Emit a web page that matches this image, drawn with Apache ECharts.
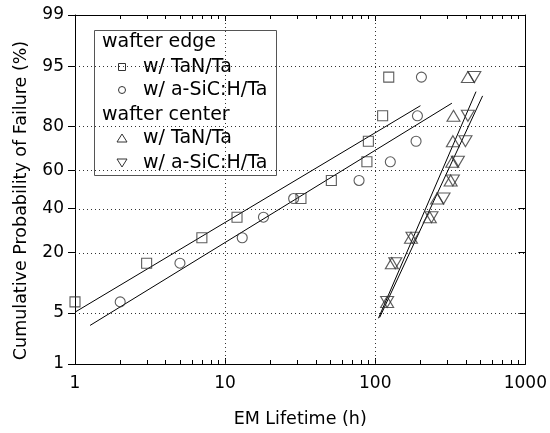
<!DOCTYPE html>
<html><head><meta charset="utf-8">
<script src="https://cdn.jsdelivr.net/npm/echarts@6/dist/echarts.min.js"></script>
<style>html,body{margin:0;padding:0;background:#fff}#c{width:550px;height:433px}</style>
</head><body><div id="c"></div>
<script>
// ---- data ----
const xTickLabels = [1, 10, 100, 1000];
const xGridValues = [10, 100];
const minorTickValues = [2,3,4,5,6,7,8,9,20,30,40,50,60,70,80,90,200,300,400,500,600,700,800,900];
const yTickLabels = [1, 5, 20, 40, 60, 80, 95, 99];
const yGridPercents = [5, 20, 40, 60, 80, 95];

const probPercent = [6.7, 16.3, 26.0, 35.6, 45.2, 54.8, 64.4, 74.0, 83.7, 93.3];
const edgeTaN   = [1, 3, 7, 12, 32, 51, 88, 90, 112, 123];
const edgeSiC   = [2, 5, 13, 18, 28.6, 78, 126, 187, 191, 203];
const centerTaN = [120, 129, 173, 231, 258, 318, 326, 329, 332, 414];
const centerSiC = [120, 136, 177, 237, 285, 329, 355, 399, 414, 457];

const fitEdgeTaN   = [[1, 5.1], [200, 86.8]];
const fitEdgeSiC   = [[1.26, 3.5], [324, 87.5]];
const fitCenterTaN = [[105, 4.3], [469, 90.4]];
const fitCenterSiC = [[107, 4.4], [519, 89.4]];

const legendHeaders = ['wafter edge', 'wafter center'];
const legendItems = ['w/ TaN/Ta', 'w/ a-SiC:H/Ta', 'w/ TaN/Ta', 'w/ a-SiC:H/Ta'];

// ---- probability (normal) scale ----
function probit(p){
  const a=[-3.969683028665376e+01,2.209460984245205e+02,-2.759285104469687e+02,1.383577518672690e+02,-3.066479806614716e+01,2.506628277459239e+00];
  const b=[-5.447609879822406e+01,1.615858368580409e+02,-1.556989798598866e+02,6.680131188771972e+01,-1.328068155288572e+01];
  const c=[-7.784894002430293e-03,-3.223964580411365e-01,-2.400758277161838e+00,-2.549732539343734e+00,4.374664141464968e+00,2.938163982698783e+00];
  const d=[7.784695709041462e-03,3.224671290700398e-01,2.445134137142996e+00,3.754408661907416e+00];
  const pl=0.02425, ph=1-pl; let q,r;
  if(p<pl){q=Math.sqrt(-2*Math.log(p));return (((((c[0]*q+c[1])*q+c[2])*q+c[3])*q+c[4])*q+c[5])/((((d[0]*q+d[1])*q+d[2])*q+d[3])*q+1);}
  if(p>ph){q=Math.sqrt(-2*Math.log(1-p));return -(((((c[0]*q+c[1])*q+c[2])*q+c[3])*q+c[4])*q+c[5])/((((d[0]*q+d[1])*q+d[2])*q+d[3])*q+1);}
  q=p-0.5;r=q*q;return (((((a[0]*r+a[1])*r+a[2])*r+a[3])*r+a[4])*r+a[5])*q/(((((b[0]*r+b[1])*r+b[2])*r+b[3])*r+b[4])*r+1);
}
const z = pct => probit(pct/100);
const yTickZ = yTickLabels.map(z);
const yMin = yTickZ[0], yMax = yTickZ[yTickZ.length-1];
const fmtY = v => { for (let i=0;i<yTickZ.length;i++){ if (Math.abs(yTickZ[i]-v)<1e-6) return String(yTickLabels[i]); } return ''; };

const FONT = 'DejaVu Sans';
const MK = '#333';
const toPts = ts => ts.map((t,i)=>[t, z(probPercent[i])]);
const toFit = f => f.map(p=>[p[0], z(p[1])]);

const chart = echarts.init(document.getElementById('c'), null, {renderer:'canvas'});
const scatterBase = (name, data, symbol, size, rot) => ({
  name, type:'scatter', data, symbol, symbolSize:size, symbolRotate:rot||0,
  itemStyle:{color:'rgba(0,0,0,0)', borderColor:MK, borderWidth:1.1}, z:3, silent:true
});
const lineBase = (data) => ({type:'line', data, symbol:'none', lineStyle:{color:'#000', width:1}, z:2, silent:true, animation:false});

// grid lines & minor ticks, positioned through the axes' scales
const gridData = xGridValues.map(v=>[v, 0, 0]).concat(yGridPercents.map(p=>[1, z(p), 1]));
const option = {
  animation:false,
  backgroundColor:'#fff',
  grid:{left:75, right:20, top:15, bottom:67, containLabel:false},
  xAxis:[{
    type:'log', logBase:10, min:1, max:1000, position:'bottom',
    axisLine:{onZero:false, lineStyle:{color:'#000', width:1}},
    axisTick:{inside:true, length:6, lineStyle:{color:'#000'}},
    axisLabel:{fontSize:17, fontFamily:FONT, color:'#000', margin:11, formatter: v => xTickLabels.includes(v) ? String(v) : ''},
    splitLine:{show:false},
    name:'EM Lifetime (h)', nameLocation:'middle', nameGap:46,
    nameTextStyle:{fontSize:17.5, fontFamily:FONT, color:'#000'}
  },{
    type:'log', logBase:10, min:1, max:1000, position:'top',
    axisLine:{onZero:false, lineStyle:{color:'#000', width:1}},
    axisTick:{inside:true, length:6, lineStyle:{color:'#000'}},
    axisLabel:{show:false}, splitLine:{show:false}
  }],
  yAxis:[{
    type:'value', min:yMin, max:yMax,
    axisLine:{show:true, onZero:false, lineStyle:{color:'#000', width:1}},
    axisTick:{show:true, inside:false, length:7, customValues:yTickZ, lineStyle:{color:'#000'}},
    axisLabel:{customValues:yTickZ, formatter:fmtY, fontSize:17, fontFamily:FONT, color:'#000', margin:11},
    splitLine:{show:false},
    name:'Cumulative Probability of Failure (%)', nameLocation:'middle', nameGap:45, nameRotate:90,
    nameTextStyle:{fontSize:17.5, fontFamily:FONT, color:'#000', padding:[0, 22, 0, 0]}
  },{
    type:'value', min:yMin, max:yMax, position:'right',
    axisLine:{show:true, onZero:false, lineStyle:{color:'#000', width:1}},
    axisTick:{show:true, inside:true, length:7, customValues:yTickZ, lineStyle:{color:'#000'}},
    axisLabel:{show:false, customValues:yTickZ}, splitLine:{show:false}
  }],
  series:[
    {type:'custom', xAxisIndex:0, yAxisIndex:0, silent:true, z:1,
     data: gridData,
     renderItem:(params, api)=>{
       const cs = params.coordSys;
       const pt = api.coord([api.value(0), api.value(1)]);
       const sty = {stroke:'#333', lineWidth:1, lineDash:[1,3]};
       if (api.value(2) === 0) {
         const x = Math.round(pt[0]) + 0.5;
         return {type:'line', shape:{x1:x, y1:cs.y, x2:x, y2:cs.y+cs.height}, style:sty};
       }
       const y = Math.round(pt[1]) + 0.5;
       return {type:'line', shape:{x1:cs.x, y1:y, x2:cs.x+cs.width, y2:y}, style:sty};
     }},
    {type:'custom', xAxisIndex:0, yAxisIndex:0, silent:true, z:4,
     data: minorTickValues.map(v=>[v, 0]),
     renderItem:(params, api)=>{
       const x = Math.round(api.coord([api.value(0), 0])[0]) + 0.5;
       const cs = params.coordSys;
       const yb = cs.y + cs.height, yt = cs.y;
       return {type:'group', children:[
         {type:'line', shape:{x1:x, y1:yb, x2:x, y2:yb-4}, style:{stroke:'#000', lineWidth:1}},
         {type:'line', shape:{x1:x, y1:yt, x2:x, y2:yt+4}, style:{stroke:'#000', lineWidth:1}}
       ]};
     }},
    lineBase(toFit(fitEdgeTaN)),
    lineBase(toFit(fitEdgeSiC)),
    lineBase(toFit(fitCenterTaN)),
    lineBase(toFit(fitCenterSiC)),
    scatterBase('edge TaN', toPts(edgeTaN), 'rect', 10),
    scatterBase('edge SiC', toPts(edgeSiC), 'circle', 10),
    scatterBase('center TaN', toPts(centerTaN), 'triangle', [13,11]),
    scatterBase('center SiC', toPts(centerSiC), 'triangle', [13,11], 180)
  ],
  graphic:[{
    type:'group', left:94, top:30, z:10,
    children:[
      {type:'rect', shape:{x:0.5, y:0.5, width:182, height:145}, style:{fill:'#fff', stroke:'#555', lineWidth:1}},
      {type:'text', x:8, y:12, style:{text:legendHeaders[0], font:'19px '+FONT, fill:'#000', verticalAlign:'middle'}},
      {type:'text', x:49, y:37, style:{text:legendItems[0], font:'19px '+FONT, fill:'#000', verticalAlign:'middle'}},
      {type:'text', x:49, y:60, style:{text:legendItems[1], font:'19px '+FONT, fill:'#000', verticalAlign:'middle'}},
      {type:'text', x:8, y:85, style:{text:legendHeaders[1], font:'19px '+FONT, fill:'#000', verticalAlign:'middle'}},
      {type:'text', x:49, y:108, style:{text:legendItems[2], font:'19px '+FONT, fill:'#000', verticalAlign:'middle'}},
      {type:'text', x:49, y:133, style:{text:legendItems[3], font:'19px '+FONT, fill:'#000', verticalAlign:'middle'}},
      {type:'rect', shape:{x:24.5, y:33.5, width:7, height:7}, style:{fill:'none', stroke:MK, lineWidth:1}},
      {type:'circle', shape:{cx:28, cy:60, r:3.5}, style:{fill:'none', stroke:MK, lineWidth:1}},
      {type:'polygon', shape:{points:[[28,104],[23,112],[33,112]]}, style:{fill:'none', stroke:MK, lineWidth:1}},
      {type:'polygon', shape:{points:[[23,129],[33,129],[28,137]]}, style:{fill:'none', stroke:MK, lineWidth:1}}
    ]
  }]
};
chart.setOption(option);
</script>
</body></html>
